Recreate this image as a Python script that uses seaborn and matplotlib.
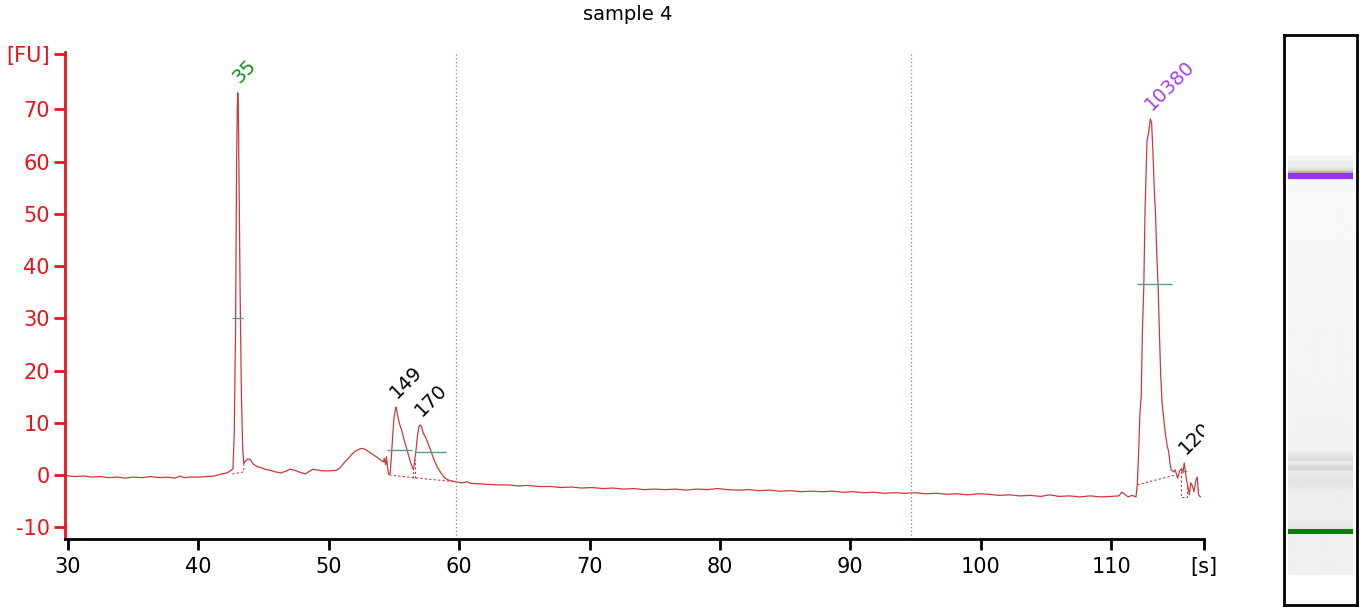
import numpy as np
import pandas as pd
import seaborn as sns
import matplotlib.pyplot as plt

# Electropherogram of sample 4 (time in s, fluorescence in FU)
time_s = [29.8, 30.5, 31.2, 31.8, 32.5, 33.1, 33.8, 34.4, 35.0, 35.7, 36.3, 37.0, 37.6, 38.2,
          38.6, 38.9, 39.4, 40.0, 40.6, 41.2, 41.8, 42.2, 42.5,
          42.65, 42.75, 42.85, 42.93, 42.98, 43.02, 43.06, 43.12, 43.2, 43.3, 43.4, 43.48,
          43.6, 43.8, 44.0, 44.2, 44.5, 44.8, 45.1, 45.5, 45.9, 46.3, 46.7, 47.0, 47.4, 47.8,
          48.2, 48.5, 48.8, 49.2, 49.6, 50.1, 50.6, 50.9, 51.2, 51.5, 51.9, 52.2, 52.5, 52.8,
          53.1, 53.4, 53.7, 54.0, 54.2, 54.25, 54.35, 54.42, 54.5, 54.6, 54.7,
          54.8, 54.9, 55.0, 55.1, 55.15, 55.25, 55.4, 55.6, 55.8, 56.0, 56.2, 56.4, 56.5, 56.6,
          56.7, 56.8, 56.9, 57.0, 57.1, 57.25, 57.5, 57.8, 58.0, 58.3, 58.6, 58.9, 59.2, 59.7,
          60.2, 60.6, 60.9, 61.5, 62.2, 63.0, 63.8, 64.5, 65.3, 66.1, 67.0, 67.8, 68.6, 69.4,
          70.2, 71.0, 71.8, 72.6, 73.4, 74.2, 75.0, 75.8, 76.6, 77.4, 78.2, 79.0, 79.8, 80.6,
          81.4, 82.2, 83.0, 83.8, 84.6, 85.4, 86.2, 87.0, 87.8, 88.6, 89.4, 90.2, 91.0, 91.8,
          92.6, 93.4, 94.2, 95.0, 95.8, 96.6, 97.4, 98.2, 99.0, 99.8, 100.6, 101.4, 102.2,
          103.0, 103.8, 104.6, 105.3, 106.0, 106.8, 107.6, 108.4, 109.2, 110.0, 110.6, 110.8,
          111.0, 111.3, 111.6, 111.9,
          112.0, 112.1, 112.2, 112.3, 112.4, 112.5, 112.6, 112.75, 112.9, 113.0, 113.1, 113.2,
          113.3, 113.4, 113.5, 113.6, 113.7, 113.8, 113.9, 114.0, 114.15, 114.3, 114.4, 114.5,
          114.6, 114.8, 114.9, 115.1, 115.25, 115.4, 115.5, 115.6, 115.75, 115.85, 116.0,
          116.1, 116.25, 116.35, 116.5, 116.6, 116.7, 116.85]
fu = [-0.1, -0.3, -0.2, -0.4, -0.3, -0.5, -0.4, -0.6, -0.4, -0.5, -0.3, -0.5, -0.4, -0.6,
      -0.2, -0.5, -0.4, -0.4, -0.3, -0.2, 0.2, 0.4, 0.9,
      1.2, 8, 28, 60, 70, 73.2, 71, 55, 35, 15, 5, 2.2,
      2.6, 3.1, 2.9, 2.1, 1.6, 1.4, 1.1, 0.9, 0.6, 0.4, 0.7, 1.1, 0.9, 0.5,
      0.2, 0.7, 1.1, 0.9, 0.8, 0.8, 0.9, 1.5, 2.4, 3.2, 4.3, 4.8, 5.1, 4.9,
      4.4, 3.9, 3.4, 2.8, 2.5, 3.2, 2.0, 3.5, 1.5, 0.1, 0.2,
      3.5, 7.5, 11, 12.5, 13.0, 11.8, 10.0, 8.5, 6.5, 4.8, 3.0, 1.5, 1.0, 3.0,
      5.0, 7.5, 9.2, 9.6, 9.3, 8.0, 6.8, 4.8, 3.4, 1.6, 0.4, -0.6, -1.0, -1.3,
      -1.5, -1.3, -1.6, -1.7, -1.8, -1.9, -1.9, -2.1, -2.0, -2.2, -2.2, -2.4, -2.3, -2.5,
      -2.4, -2.6, -2.5, -2.7, -2.6, -2.8, -2.7, -2.8, -2.7, -2.9, -2.7, -2.8, -2.6, -2.8,
      -2.9, -2.8, -3.0, -2.9, -3.1, -3.0, -3.2, -3.1, -3.2, -3.1, -3.3, -3.2, -3.4, -3.3,
      -3.5, -3.4, -3.5, -3.4, -3.6, -3.5, -3.7, -3.6, -3.8, -3.6, -3.7, -3.9, -3.8,
      -4.0, -3.9, -4.1, -3.8, -4.1, -4.0, -4.2, -4.0, -4.2, -4.1, -4.0, -3.3,
      -3.6, -4.2, -3.9, -4.2,
      -2.0, 4.0, 11.5, 15.0, 28, 36, 51, 64, 66, 68.2, 67.5, 62,
      55, 50, 42, 36, 27, 19, 14, 11.5, 8, 5.5, 4.6, 2.5,
      1.0, 0.6, 1.0, -0.6, 0.8, 1.2, 0.4, 2.3, -0.5, -1.8, -3.8,
      -1.5, -2.2, -3.2, -1.0, -0.4, -3.8, -4.2]

# peak labels
peak_labels = ["35", "149", "170", "10380", "12000"]
peak_time = [43.02, 55.15, 57.0, 113.0, 115.6]
peak_fu = [73.2, 13.0, 9.6, 68.2, 2.3]
peak_colors = ["#1a8c1a", "black", "black", "#a040f0", "black"]

# half-height width markers
width_start = [42.6, 54.5, 56.6, 112.0, 115.35]
width_end = [43.45, 56.4, 59.0, 114.7, 115.85]
width_level = [30.0, 4.8, 4.4, 36.6, 0.8]

# dotted peak baselines (time, FU)
baseline_t = [[42.6, 43.48, 43.48], [54.65, 56.45, 59.7], [112.0, 114.9],
              [115.35, 115.35, 115.85, 115.85]]
baseline_v = [[0.2, 0.6, 2.2], [0.0, -0.5, -1.3], [-1.9, 0.0],
              [0.8, -4.2, -4.2, -1.8]]
split_t = [56.45, 56.6]
split_top = [1.0, 3.0]
split_bottom = [-0.5, -0.5]

# analysis window
window_t = [59.75, 94.65]

# gel lane marker bands
marker_t = [42.9, 112.8]
marker_colors = ["#0a7d0a", "#9632f0"]

sns.set_style("white")
plt.rcParams["font.family"] = ["DejaVu Sans"]
plt.rcParams["text.color"] = "black"

red = "#e8141c"
trace_red = "#cc3a3a"

fig = plt.figure(figsize=(13.61, 6.07), dpi=100)
ax = fig.add_axes([0.04776, 0.112, 0.8369, 0.8023])

df = pd.DataFrame({"time": time_s, "fu": fu})
sns.lineplot(data=df, x="time", y="fu", ax=ax, color=trace_red, linewidth=0.9)

for t in window_t:
    ax.axvline(t, color="#7a7ac8", linestyle=(0, (1, 2)), linewidth=0.9)

for bt, bv in zip(baseline_t, baseline_v):
    ax.plot(bt, bv, color=trace_red, linestyle=(0, (2, 2)), linewidth=0.8)
ax.vlines(split_t, split_bottom, split_top, color=trace_red, linestyle=(0, (2, 2)), linewidth=0.8)

ax.hlines(width_level, width_start, width_end, color="#5a9a90", linewidth=1.0)

for lab, t, v, c in zip(peak_labels, peak_time, peak_fu, peak_colors):
    ax.annotate(lab, xy=(t, v), xytext=(1, 6), textcoords="offset points",
                rotation=45, rotation_mode="anchor", ha="left", va="baseline",
                color=c, fontsize=14, annotation_clip=False, clip_on=True)

ax.set_xlim(29.77, 117.12)
ax.set_ylim(-12.26, 81.0)
ax.set_xticks([30, 40, 50, 60, 70, 80, 90, 100, 110, 117.12])
ax.set_xticklabels(["30", "40", "50", "60", "70", "80", "90", "100", "110", "[s]"])
ax.xaxis.get_major_ticks()[-1].tick1line.set_visible(False)
ax.set_yticks([-10, 0, 10, 20, 30, 40, 50, 60, 70, 80.6])
ax.set_yticklabels(["-10", "0", "10", "20", "30", "40", "50", "60", "70", "[FU]"])
ax.set_xlabel("")
ax.set_ylabel("")

for s in ["top", "right"]:
    ax.spines[s].set_visible(False)
ax.spines["left"].set_color(red)
ax.spines["left"].set_linewidth(2)
ax.spines["bottom"].set_color("black")
ax.spines["bottom"].set_linewidth(2)
ax.tick_params(axis="y", colors=red, labelcolor=red, length=8, width=2, labelsize=15, pad=3, left=True)
ax.tick_params(axis="x", colors="black", labelcolor="black", length=8, width=2, labelsize=15, pad=5, bottom=True)

fig.text(628 / 1361, 1 - 15 / 607, "sample 4", ha="center", va="center", fontsize=14, color="black")

# gel lane, grey level taken from the trace
lane = fig.add_axes([1284 / 1361, 1 - 605 / 607, 73 / 1361, 570 / 607])
lane_top_t, lane_bot_t = 140.5, 28.45
grid_t = np.linspace(34.35, 116.9, 600)
grid_v = np.interp(grid_t, time_s, fu)
grey = 0.975 - 0.55 * (1 - np.exp(-(grid_v + 4) / 55))
img = np.clip(grey, 0, 1)[::-1].reshape(-1, 1)
lane.imshow(img, cmap="gray", vmin=0, vmax=1, aspect="auto",
            extent=[0.055, 0.945, grid_t[0], grid_t[-1]], interpolation="bilinear")
for t, c in zip(marker_t, marker_colors):
    lane.fill_between([0.055, 0.945], t - 0.55, t + 0.55, color=c, linewidth=0)
lane.set_xlim(0, 1)
lane.set_ylim(lane_bot_t, lane_top_t)
lane.set_xticks([])
lane.set_yticks([])
for s in lane.spines.values():
    s.set_color("black")
    s.set_linewidth(2)
    s.set_visible(True)

fig.savefig("out.png", dpi=100)
